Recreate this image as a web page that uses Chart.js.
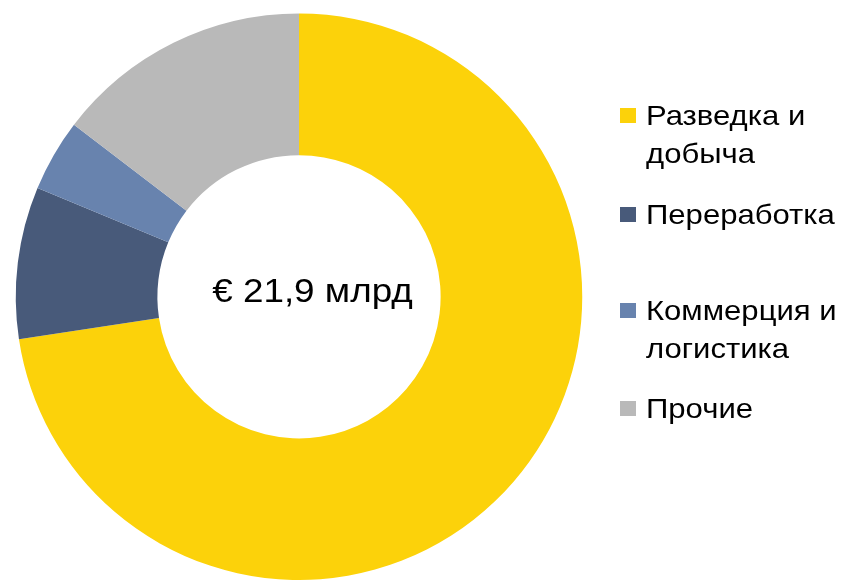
<!DOCTYPE html>
<html>
<head>
<meta charset="utf-8">
<script src="https://cdn.jsdelivr.net/npm/chart.js@4/dist/chart.umd.min.js"></script>
<style>
  html, body { margin: 0; padding: 0; background: #ffffff; }
  #wrap { position: relative; width: 843px; height: 580px; }
</style>
</head>
<body>
<div id="wrap"><canvas id="c" width="843" height="580"></canvas></div>
<script>
// Data (billion EUR)
const categories = ["Разведка и\nдобыча", "Переработка", "Коммерция и\nлогистика", "Прочие"];
const values = [15.9, 1.9, 0.9, 3.2];
const colors = ["#FCD20A", "#485A7A", "#6883AE", "#B9B9B9"];
const centerLabel = "€ 21,9 млрд";

function stretchedText(ctx, text, x, y, sx) {
  ctx.save();
  ctx.translate(x, y);
  ctx.scale(sx, 1);
  ctx.fillText(text, 0, 0);
  ctx.restore();
}

const centerText = {
  id: 'centerText',
  afterDraw(chart) {
    const arc = chart.getDatasetMeta(0).data[0];
    const ctx = chart.ctx;
    ctx.save();
    ctx.font = '33.5px "Liberation Sans", Arial, sans-serif';
    ctx.fillStyle = '#000000';
    ctx.textAlign = 'center';
    ctx.textBaseline = 'alphabetic';
    stretchedText(ctx, centerLabel, arc.x + 13.5, arc.y + 5, 1.1);
    ctx.restore();
  }
};

const customLegend = {
  id: 'customLegend',
  afterDraw(chart) {
    const ctx = chart.ctx;
    const firstBaselines = [125, 224, 320, 418];
    const lineH = 38;
    ctx.save();
    ctx.font = '28.5px "Liberation Sans", Arial, sans-serif';
    ctx.textAlign = 'left';
    ctx.textBaseline = 'alphabetic';
    categories.forEach((label, i) => {
      const b = firstBaselines[i];
      ctx.fillStyle = colors[i];
      ctx.fillRect(620, b - 17, 16, 15);
      ctx.fillStyle = '#000000';
      label.split('\n').forEach((line, j) => {
        stretchedText(ctx, line, 646, b + j * lineH, 1.09);
      });
    });
    ctx.restore();
  }
};

new Chart(document.getElementById('c'), {
  type: 'doughnut',
  data: {
    labels: categories.map(s => s.replace('\n', ' ')),
    datasets: [{
      data: values,
      backgroundColor: colors,
      borderWidth: 0
    }]
  },
  options: {
    responsive: false,
    animation: false,
    cutout: '50%',
    rotation: 0,
    layout: { padding: { left: 15.5, right: 260.5, top: 13.5, bottom: 0 } },
    plugins: {
      legend: { display: false },
      tooltip: { enabled: false }
    }
  },
  plugins: [centerText, customLegend]
});
</script>
</body>
</html>
